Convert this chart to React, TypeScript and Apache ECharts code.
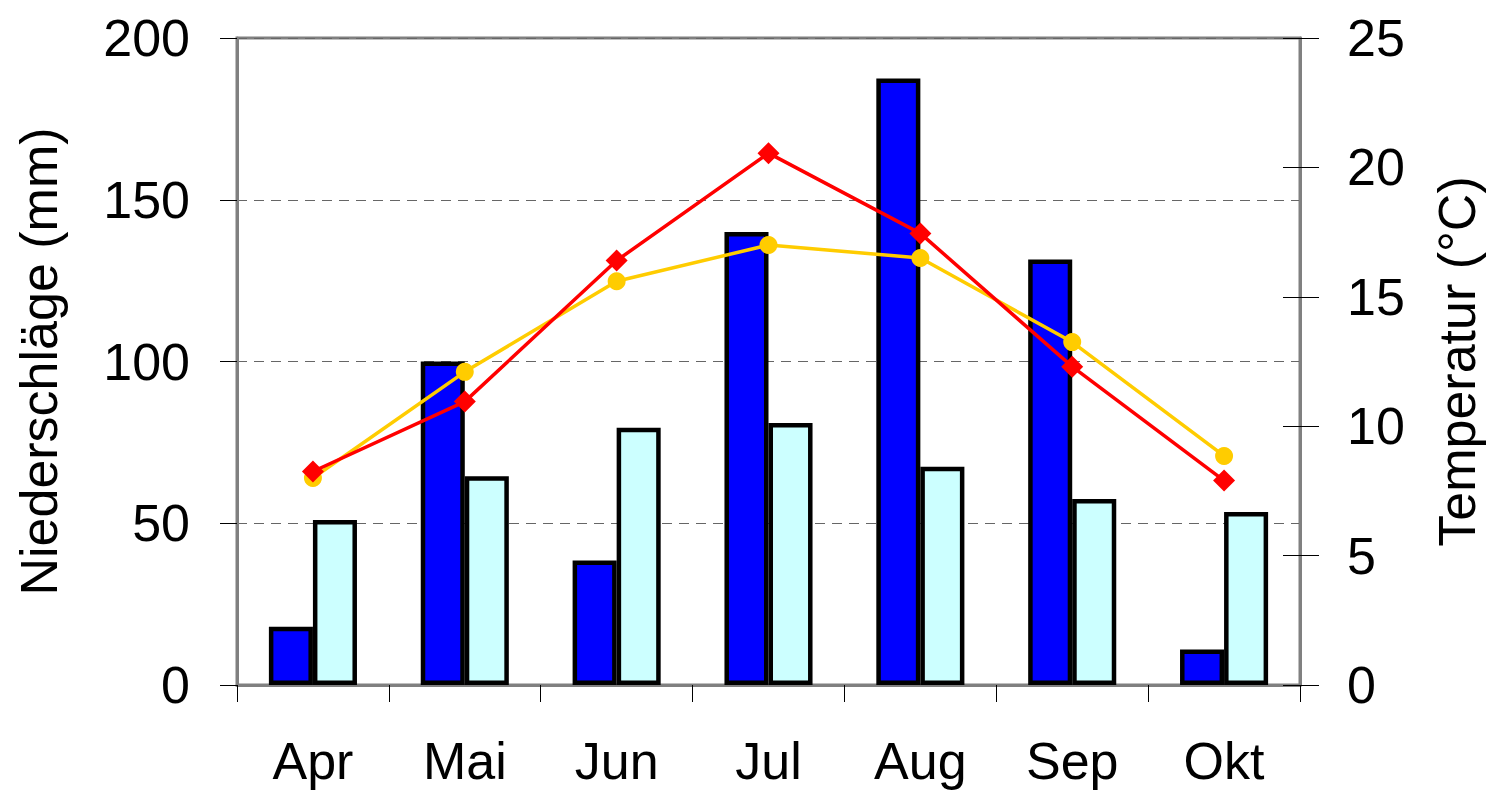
import React, { useEffect, useRef } from "react";
import * as echarts from "echarts";

const months = ["Apr", "Mai", "Jun", "Jul", "Aug", "Sep", "Okt"];
const precipA = [18, 100, 38.5, 140, 187.5, 131.5, 11];
const precipB = [51, 64.5, 79.5, 81, 67.5, 57.5, 53.5];
const tempRed = [8.25, 10.95, 16.4, 20.55, 17.45, 12.3, 7.9];
const tempYellow = [8.0, 12.1, 15.6, 17.0, 16.5, 13.25, 8.85];
const leftTicks = { min: 0, max: 200, interval: 50 };
const rightTicks = { min: 0, max: 25, interval: 5 };

const FONT = "Liberation Sans, Arial, sans-serif";
const FS = 52;

export default function App() {
  const ref = useRef<HTMLDivElement>(null);
  useEffect(() => {
    const chart = echarts.init(ref.current!, null, { renderer: "svg" });
    chart.setOption({
      animation: false,
      backgroundColor: "#ffffff",
      textStyle: { fontFamily: FONT },
      grid: {
        left: 237,
        right: 195,
        top: 38,
        bottom: 110,
        containLabel: false,
        outerBoundsMode: "none",
        show: true,
        borderColor: "#808080",
        borderWidth: 3,
        backgroundColor: "transparent",
      },
      xAxis: {
        type: "category",
        data: months,
        boundaryGap: true,
        axisLine: { lineStyle: { color: "#808080", width: 3 } },
        axisTick: { show: true, length: 17, lineStyle: { color: "#000", width: 1 } },
        axisLabel: { color: "#000", fontSize: FS, fontFamily: FONT, margin: 50 },
      },
      yAxis: [
        {
          type: "value",
          position: "left",
          ...leftTicks,
          name: "Niederschläge (mm)",
          nameLocation: "middle",
          nameGap: 172,
          nameRotate: 90,
          nameTextStyle: { color: "#000", fontSize: FS, fontFamily: FONT },
          axisLine: { show: true, lineStyle: { color: "#808080", width: 3 } },
          axisTick: { show: true, length: 17, lineStyle: { color: "#000", width: 1 } },
          axisLabel: { color: "#000", fontSize: FS, fontFamily: FONT, margin: 47 },
          splitLine: { show: true, lineStyle: { color: "#666", type: [10, 7], width: 1 } },
        },
        {
          type: "value",
          position: "right",
          ...rightTicks,
          name: "Temperatur (°C)",
          nameLocation: "middle",
          nameGap: 131,
          nameRotate: 90,
          nameTextStyle: { color: "#000", fontSize: FS, fontFamily: FONT },
          axisLine: { show: true, lineStyle: { color: "#808080", width: 3 } },
          axisTick: { show: true, length: 19, lineStyle: { color: "#000", width: 1 } },
          axisLabel: { color: "#000", fontSize: FS, fontFamily: FONT, margin: 47 },
          splitLine: { show: false },
        },
        {
          type: "value",
          position: "right",
          ...rightTicks,
          axisLine: { show: false },
          axisTick: { show: true, inside: true, length: 17, lineStyle: { color: "#000", width: 1 } },
          axisLabel: { show: false },
          splitLine: { show: false },
        },
      ],
      series: [
        {
          type: "bar",
          data: precipA,
          yAxisIndex: 0,
          barGap: "0%",
          barCategoryGap: "42%",
          itemStyle: { color: "#0000ff", borderColor: "#000", borderWidth: 4.5 },
        },
        {
          type: "bar",
          data: precipB,
          yAxisIndex: 0,
          barGap: "0%",
          barCategoryGap: "42%",
          itemStyle: { color: "#ccffff", borderColor: "#000", borderWidth: 4.5 },
        },
        {
          type: "line",
          data: tempRed,
          yAxisIndex: 1,
          symbol: "diamond",
          symbolSize: 22,
          lineStyle: { color: "#ff0000", width: 3.5 },
          itemStyle: { color: "#ff0000" },
          z: 5,
        },
        {
          type: "line",
          data: tempYellow,
          yAxisIndex: 1,
          symbol: "circle",
          symbolSize: 18,
          lineStyle: { color: "#ffcc00", width: 3.5 },
          itemStyle: { color: "#ffcc00" },
          z: 4,
        },
      ],
    });
    return () => chart.dispose();
  }, []);
  return (
    <div
      ref={ref}
      style={{ position: "fixed", left: 0, top: 0, width: 1495, height: 795 }}
    />
  );
}
